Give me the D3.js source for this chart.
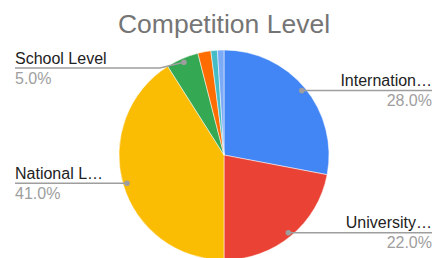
<!DOCTYPE html>
<html>
<head>
<meta charset="utf-8">
<script src="https://cdn.jsdelivr.net/npm/d3@7"></script>
<style>
  html, body { margin: 0; padding: 0; background: #fff; }
  svg { display: block; font-family: Arial, "Liberation Sans", sans-serif; }
</style>
</head>
<body>
<svg id="chart"></svg>
<script>
// chart data
var categories = ["Internation\u2026", "University\u2026", "National L\u2026", "School Level", "", "", ""];
var values = [28, 22, 41, 5, 2, 1, 1];
var colors = ["#4285f4", "#ea4335", "#fbbc04", "#34a853", "#ff6d01", "#46bdc6", "#7baaf7"];
var title = "Competition Level";

var width = 435, height = 258;
var cx = 224, cy = 155, radius = 105;

var svg = d3.select("#chart")
    .attr("width", width)
    .attr("height", height);

svg.append("text")
    .attr("x", cx)
    .attr("y", 33)
    .attr("text-anchor", "middle")
    .attr("font-size", 26.5)
    .attr("fill", "#757575")
    .text(title);

var total = d3.sum(values);
var fmt = d3.format(".1%");

var pie = d3.pie().sort(null).value(function(d) { return d; });
var arcs = pie(values);

var arc = d3.arc().innerRadius(0).outerRadius(radius);
var dotArc = d3.arc().innerRadius(101).outerRadius(101);

var g = svg.append("g")
    .attr("transform", "translate(" + cx + "," + cy + ")");

g.selectAll("path.slice")
    .data(arcs)
    .enter()
    .append("path")
    .attr("class", "slice")
    .attr("d", arc)
    .attr("fill", function(d, i) { return colors[i]; })
    .attr("stroke", "#fff")
    .attr("stroke-width", 0.5);

// labels with leader lines, only for the labelled slices
var labelled = arcs.filter(function(d, i) { return categories[i] !== ""; });

labelled.forEach(function(d) {
    var i = d.index;
    var p = dotArc.centroid(d);
    var dx = cx + p[0], dy = cy + p[1];
    var mid = (d.startAngle + d.endAngle) / 2;
    var right = mid < Math.PI;
    var lineY = Math.max(dy, 68);
    var endX = right ? 432 : 15;

    var pts = [[dx, dy]];
    if (lineY !== dy) pts.push([dx + (right ? 24 : -24), lineY]);
    pts.push([endX, lineY]);

    svg.append("path")
        .attr("d", d3.line()(pts))
        .attr("fill", "none")
        .attr("stroke", "#9e9e9e")
        .attr("stroke-width", 1.5);

    svg.append("circle")
        .attr("cx", dx)
        .attr("cy", dy)
        .attr("r", 2.8)
        .attr("fill", "#9e9e9e");

    svg.append("text")
        .attr("x", endX)
        .attr("y", lineY - 4.5)
        .attr("text-anchor", right ? "end" : "start")
        .attr("font-size", 16)
        .attr("fill", "#222")
        .text(categories[i]);

    svg.append("text")
        .attr("x", endX)
        .attr("y", lineY + 15.5)
        .attr("text-anchor", right ? "end" : "start")
        .attr("font-size", 16)
        .attr("fill", "#9e9e9e")
        .text(fmt(values[i] / total));
});
</script>
</body>
</html>
